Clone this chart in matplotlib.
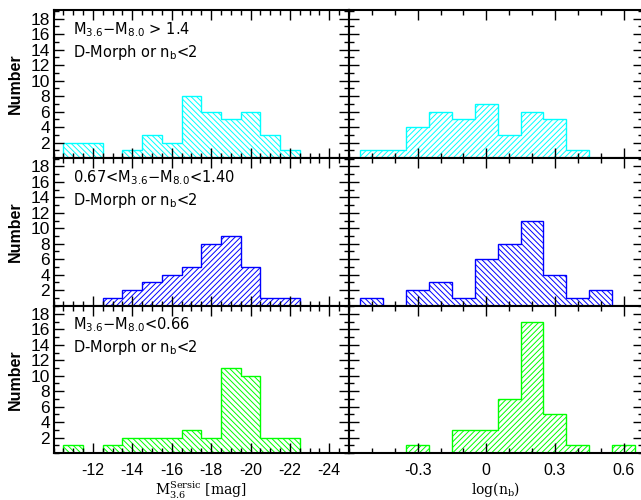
import matplotlib.pyplot as plt
import numpy as np
from matplotlib.ticker import MultipleLocator, FixedLocator, FuncFormatter

# histogram counts
mag_centers = [-11, -12, -13, -14, -15, -16, -17, -18, -19, -20, -21, -22]
mag_red = [2, 2, 0, 1, 3, 2, 8, 6, 5, 6, 3, 1]
mag_mid = [0, 0, 1, 2, 3, 4, 5, 8, 9, 5, 1, 1]
mag_blue = [1, 0, 1, 2, 2, 2, 3, 2, 11, 10, 2, 2]

logn_centers = [-0.5, -0.4, -0.3, -0.2, -0.1, 0.0, 0.1, 0.2, 0.3, 0.4, 0.5, 0.6]
logn_red = [1, 1, 4, 6, 5, 7, 3, 6, 5, 1, 0, 0]
logn_mid = [1, 0, 2, 3, 1, 6, 8, 11, 4, 1, 2, 0]
logn_blue = [0, 0, 1, 0, 3, 3, 7, 17, 5, 1, 0, 1]

row_labels = [r'M$_{3.6}$−M$_{8.0}$ > 1.4',
              r'0.67<M$_{3.6}$−M$_{8.0}$<1.40',
              r'M$_{3.6}$−M$_{8.0}$<0.66']
morph_label = r'D-Morph or n$_{\mathrm{b}}$<2'
colors = ['#00ffff', '#0000ff', '#00ff00']

plt.rcParams['hatch.linewidth'] = 0.7
plt.rcParams['font.family'] = 'Liberation Sans'

fig = plt.figure(figsize=(6.41, 5.0), dpi=100)

W, H = 641.0, 500.0
x_left, x_mid, x_right = 53.5, 349.0, 643.0
y_rows = [(10.0, 158.0), (158.0, 305.5), (305.5, 453.0)]


def step_hist(ax, centers, counts, width, color, hatch):
    c = np.array(centers, dtype=float)
    v = np.array(counts, dtype=float)
    order = np.argsort(c)
    c, v = c[order], v[order]
    edges = np.append(c - width / 2, c[-1] + width / 2)
    ax.stairs(v, edges, fill=True, facecolor='none', edgecolor=color,
              hatch=hatch, linewidth=1.0)


def style_axes(ax):
    for s in ax.spines.values():
        s.set_linewidth(1.5)
    ax.tick_params(which='both', direction='in', top=True, right=True, width=1.0)
    ax.tick_params(which='major', length=7)
    ax.tick_params(which='minor', length=3.5)
    ax.tick_params(axis='y', pad=2.5, labelsize=12.5)
    ax.tick_params(axis='x', pad=7, labelsize=11.5)
    ax.set_ylim(0, 19.1)
    ax.yaxis.set_major_locator(FixedLocator(np.arange(2, 19, 2)))
    ax.yaxis.set_minor_locator(MultipleLocator(1))


hatches_left = ['\\\\\\\\\\\\', '//////', '\\\\\\\\\\\\']
hatches_right = ['//////', '\\\\\\\\\\\\', '//////']
mag_sets = [mag_red, mag_mid, mag_blue]
logn_sets = [logn_red, logn_mid, logn_blue]

for i, (ytop, ybot) in enumerate(y_rows):
    bottom = (H - ybot) / H
    height = (ybot - ytop) / H
    axL = fig.add_axes([x_left / W, bottom, (x_mid - x_left) / W, height])
    axR = fig.add_axes([x_mid / W, bottom, (x_right - x_mid) / W, height])

    step_hist(axL, mag_centers, mag_sets[i], 1.0, colors[i], hatches_left[i])
    step_hist(axR, logn_centers, logn_sets[i], 0.1, colors[i], hatches_right[i])

    for ax in (axL, axR):
        style_axes(ax)

    axL.set_xlim(-10, -25)
    axL.xaxis.set_major_locator(FixedLocator(np.arange(-12, -25, -2)))
    axL.xaxis.set_minor_locator(MultipleLocator(0.5))
    axL.xaxis.set_major_formatter(FuncFormatter(lambda v, p: '%d' % round(v)))

    axR.set_xlim(-0.6, 0.685)
    axR.xaxis.set_major_locator(FixedLocator([-0.3, 0.0, 0.3, 0.6]))
    axR.xaxis.set_minor_locator(MultipleLocator(0.1))
    axR.xaxis.set_major_formatter(FuncFormatter(lambda v, p: '0' if abs(v) < 1e-9 else '%g' % v))
    axR.tick_params(labelleft=False)

    if i < 2:
        axL.tick_params(labelbottom=False)
        axR.tick_params(labelbottom=False)

    axL.set_ylabel('Number', fontsize=11.5, fontweight='bold')
    axL.yaxis.set_label_coords(-0.105, 0.5)

    axL.text(0.066, 0.868, row_labels[i], transform=axL.transAxes,
             va='center', ha='left', fontsize=10.5, family='DejaVu Sans')
    axL.text(0.066, 0.712, morph_label, transform=axL.transAxes,
             va='center', ha='left', fontsize=10.5, family='DejaVu Sans')

    if i == 2:
        axL.set_xlabel(r'M$_{3.6}^{\mathrm{Sersic}}$ [mag]', fontsize=10,
                       family='DejaVu Serif', math_fontfamily='dejavuserif')
        axL.xaxis.set_label_coords(0.5, -0.18)
        axR.set_xlabel(r'log(n$_{\mathrm{b}}$)', fontsize=10,
                       family='DejaVu Serif', math_fontfamily='dejavuserif')
        axR.xaxis.set_label_coords((496 - x_mid) / (x_right - x_mid), -0.18)

fig.savefig('out.png', dpi=100)
